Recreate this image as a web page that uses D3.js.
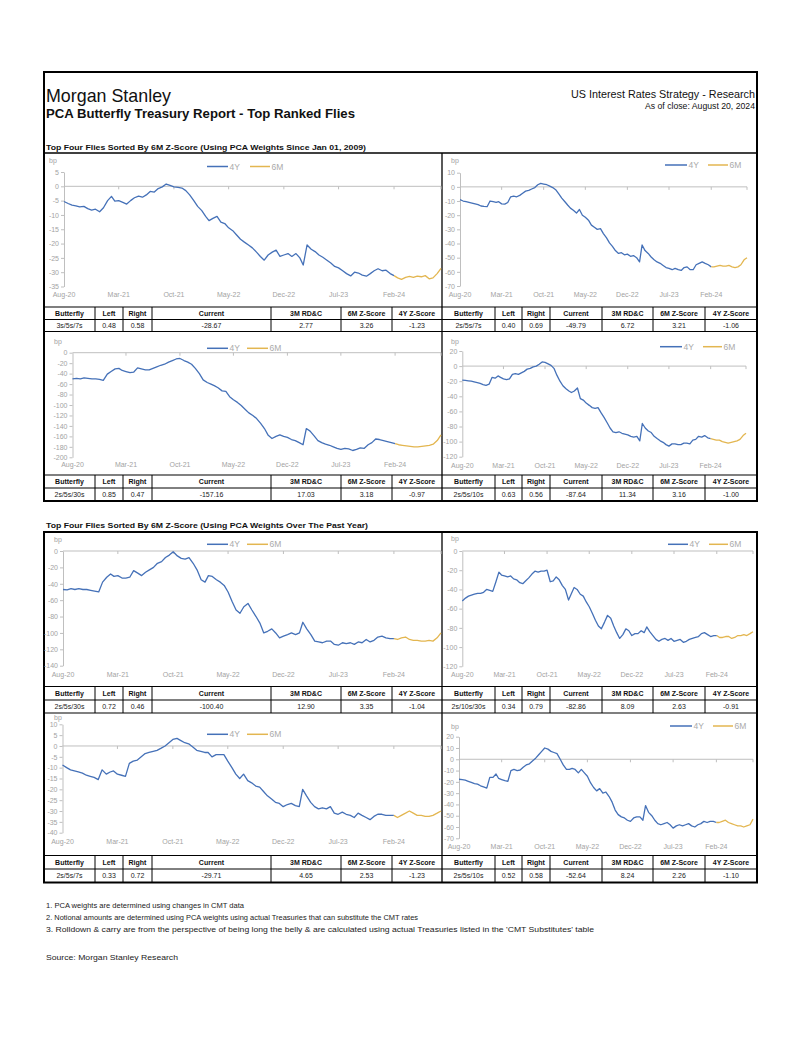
<!DOCTYPE html>
<html><head><meta charset="utf-8">
<script src="https://cdn.jsdelivr.net/npm/d3@7"></script>
<style>
body{margin:0;background:#fff}
svg{display:block}
text{font-family:"Liberation Sans",Arial,Helvetica,sans-serif}
</style>
</head><body>
<svg id="c" width="802" height="1037"></svg>
<script>
// ---------------- DATA ----------------
const xLabels = ["Aug-20","Mar-21","Oct-21","May-22","Dec-22","Jul-23","Feb-24"];
const seriesNames = ["4Y","6M"];
const tableHeaders = ["Butterfly","Left","Right","Current","3M RD&C","6M Z-Score","4Y Z-Score"];

const flyNames = ["3s/5s/7s","2s/5s/7s","2s/5s/30s","2s/5s/10s","2s/5s/30s","2s/10s/30s","2s/5s/7s","2s/5s/10s"];
const leftW    = ["0.48","0.40","0.85","0.63","0.72","0.34","0.33","0.52"];
const rightW   = ["0.58","0.69","0.47","0.56","0.46","0.79","0.72","0.58"];
const currentV = ["-28.67","-49.79","-157.16","-87.64","-100.40","-82.86","-29.71","-52.64"];
const rdc3m    = ["2.77","6.72","17.03","11.34","12.90","8.09","4.65","8.24"];
const z6m      = ["3.26","3.21","3.18","3.16","3.35","2.63","2.53","2.26"];
const z4y      = ["-1.23","-1.06","-0.97","-1.00","-1.04","-0.91","-1.23","-1.10"];

// semi-monthly observations (5th / 20th), Aug 20 2020 .. Aug 20 2024, in bp
const fly1 = [-5.3,-6.0,-6.6,-6.8,-7.2,-7.0,-7.8,-8.3,-8.0,-8.9,
 -7.5,-5.0,-3.5,-5.2,-5.0,-5.6,-6.2,-5.0,-4.0,-3.4,
 -3.8,-3.0,-1.8,-2.0,-0.8,-0.2,0.8,0.3,-0.2,-0.4,
 -0.6,-1.5,-3.0,-5.0,-7.0,-8.5,-10.5,-12.0,-11.2,-10.5,
 -12.5,-13.0,-14.5,-15.5,-17.0,-18.5,-19.5,-20.5,-21.5,-23.0,
 -24.5,-25.8,-24.0,-23.0,-22.3,-24.5,-24.0,-23.5,-24.5,-23.5,
 -25.0,-27.5,-20.5,-22.0,-22.8,-24.0,-24.8,-25.8,-26.8,-28.0,
 -28.5,-29.5,-30.5,-31.3,-30.0,-30.3,-31.0,-31.4,-30.5,-29.5,
 -28.8,-29.5,-29.3,-30.5,-31.2,-32.0,-32.5,-31.8,-31.5,-31.8,
 -31.4,-31.6,-31.2,-32.3,-32.0,-30.5,-28.7];
const fly2 = [-9,-10,-10.5,-11,-11.5,-12,-12.5,-13.5,-13.8,-14,
 -10,-10.5,-11,-10.5,-12,-12.2,-11,-7,-6.5,-7,
 -6,-4.5,-3,-2.5,-1.5,-0.5,1.5,2.5,2,1.5,
 0.5,-0.5,-2,-5,-8,-10.5,-13,-15,-16.5,-18.5,
 -16,-20,-21.5,-23.5,-27,-28.5,-30,-29.5,-33,-36,
 -39.5,-42,-45,-47,-46.5,-48,-47.5,-49,-48.5,-50,
 -53,-41,-45,-47,-49.5,-51.5,-53,-54,-55.5,-57,
 -57.5,-58.5,-57.5,-58.5,-59,-57,-56.5,-58.5,-58.5,-55,
 -54,-53,-54,-55,-56.5,-56.5,-56,-55.5,-56,-56,
 -55.5,-56.5,-57,-56.5,-55,-51.5,-50];
const fly3 = [-50,-49,-50,-48,-49,-50,-50,-51,-53,-41,
 -36,-31,-30,-34,-36,-38,-37,-29,-31,-33,
 -33,-30,-27,-24,-22,-18,-15,-12,-11,-15,
 -18,-22,-30,-40,-52,-57,-60,-63,-67,-73,
 -74,-84,-90,-95,-101,-108,-115,-120,-126,-135,
 -145,-158,-164,-160,-157,-160,-162,-166,-168,-172,
 -176,-145,-150,-159,-168,-172,-175,-177,-180,-183,
 -185,-183,-184,-187,-185,-182,-183,-176,-172,-165,
 -166,-168,-170,-172,-174,-176,-177,-178,-179,-180,
 -180,-179,-178,-177,-175,-168,-157];
const fly4 = [-18.5,-19,-19.5,-20,-21,-22,-23,-24.5,-25.5,-24,
 -15,-16,-13,-15,-17,-18,-17,-11,-10,-11,
 -9,-7,-4,-3,-1,0,2.5,5.5,5,3,
 1,-3,-12,-20,-26,-30,-33,-35,-33,-29,
 -43,-45,-49,-52,-55,-56,-55,-62,-68,-75,
 -82,-87,-88,-87,-89,-90,-91,-93,-94,-93,
 -99,-76,-82,-86,-88,-93,-96,-99,-101,-104,
 -106,-103,-103,-104,-104,-102,-102,-103,-98,-97,
 -93,-94,-92,-95,-96,-97,-98,-98,-100,-101,
 -102,-101,-100,-99,-97,-92,-89];
const fly5 = [-47,-47.5,-46,-47,-46,-47,-47,-48,-49,-50,
 -38,-32,-28,-31,-30,-33,-33,-32,-24,-27,
 -30,-26,-23,-20,-15,-13,-8,-5,-1,-6,
 -9,-10,-8,-15,-23,-35,-38,-30,-31,-35,
 -38,-42,-50,-62,-72,-76,-68,-64,-72,-80,
 -88,-100,-98,-95,-100,-106,-104,-102,-100,-102,
 -100,-87,-95,-102,-110,-111,-112,-110,-110,-114,
 -115,-112,-113,-112,-114,-111,-112,-108,-111,-109,
 -105,-104,-106,-107,-107,-108,-106,-105,-108,-109,
 -109,-110,-110,-109,-110,-106,-100];
const fly6 = [-52,-49,-47,-46,-45,-44,-44,-43,-40,-41,
 -42,-32,-22,-25,-26,-27,-26,-29,-30,-33,
 -34,-31,-28,-24,-21,-22,-21,-21,-20,-32,
 -31,-27,-30,-36,-40,-51,-44,-38,-40,-45,
 -47,-53,-58,-65,-72,-78,-81,-74,-67,-70,
 -78,-85,-91,-87,-81,-83,-88,-86,-86,-83,
 -85,-79,-84,-88,-92,-94,-92,-91,-93,-91,
 -94,-93,-92,-95,-94,-92,-91,-90,-89,-86,
 -85,-87,-89,-88,-88,-90,-90,-89,-89,-91,
 -90,-88,-88,-87,-88,-86,-84];
const fly7 = [-8.8,-10,-11,-11.5,-12,-12.5,-13.5,-14,-14.5,-15.5,
 -11,-13,-12,-11.5,-13,-13.5,-14,-8,-7,-6.5,
 -5,-3.5,-3,-2.5,-2,-1,0,1.5,3,3.5,
 2.5,1.5,1,-0.5,-2,-2.5,-3,-3,-5,-4,
 -4,-4,-7,-10,-13,-15,-13,-16,-17,-18.5,
 -19,-21,-23,-24.5,-26,-26.5,-28,-27,-26.5,-27.5,
 -28,-20,-23,-26,-28,-29,-28.5,-29,-28,-31,
 -31.5,-30.5,-31.5,-32,-33,-31,-32,-33,-34,-32.5,
 -31.5,-31.5,-32,-32,-32,-33,-32,-31,-30,-31,
 -32,-32,-32.5,-32.5,-32,-31,-30];
const fly8 = [-17.7,-18,-18.5,-19.5,-20.5,-21.5,-22,-23.5,-24.5,-25.5,
 -16,-16,-13,-17,-18,-19,-19.5,-10,-9,-10,
 -9.5,-7,-5,-4,-1.5,1,4,7,10,9,
 7,6,5,0,-5,-9,-9,-8,-9,-12,
 -9,-12,-15,-21,-25,-28,-26,-30,-29,-33,
 -38,-45,-49,-51,-52,-54,-55,-52,-51,-51,
 -54,-41,-47,-50,-54,-57,-58,-57,-56,-58,
 -61,-59,-58,-59,-58,-57,-59,-60,-58,-57,
 -55,-56,-55,-55,-56,-56,-55,-54,-56,-57,
 -58,-59,-59,-60,-59,-58,-53];
const allFlies = [fly1,fly2,fly3,fly4,fly5,fly6,fly7,fly8];
const split6M = 84; // index where the 6M window starts (Feb 20, 2024)

// observation dates
const dates = d3.range(97).map(i => i % 2 === 0 ? new Date(2020, 7 + i/2, 20) : new Date(2020, 7 + (i+1)/2, 5));
const labelDates = xLabels.map((_, k) => new Date(2020, 7 + 7*k, 20));

// ---------------- LAYOUT ----------------
const BLUE = "#4571b8", GOLD = "#e3b650", AX = "#bfbfbf", TK = "#a3a3a3";
const charts = [
 {ax:64,  right:441, ymin:-35, ymax:5,  step:5,  yb:286.5, yt:172,  bp:[49,163],  xly:296.5, lg:[207,228,250,270,166.5]},
 {ax:460, right:747, ymin:-70, ymax:10, step:10, yb:286,   yt:172.7,bp:[451,163], xly:296.5, lg:[665,687,708,728,165]},
 {ax:72.5,right:441, ymin:-200,ymax:0,  step:20, yb:457.3, yt:352.7,bp:[54,344],  xly:467,   lg:[207,228,247,268,348.3]},
 {ax:462.3,right:746,ymin:-120,ymax:20, step:20, yb:456.7, yt:351,  bp:[451,343.5],xly:467.5,lg:[660,682,703,722,346.7]},
 {ax:63,  right:441, ymin:-140,ymax:0,  step:20, yb:665.7, yt:551,  bp:[54,541.5],xly:677,   lg:[207,228,247,268,544.3]},
 {ax:462.3,right:753,ymin:-120,ymax:0,  step:20, yb:666.3, yt:551,  bp:[451,540.5],xly:677,  lg:[668,688,709,728,544.3]},
 {ax:62.5,right:441, ymin:-40, ymax:10, step:5,  yb:832.7, yt:724.3,bp:[54,720],  xly:843.5, lg:[207,228,247,268,734.3]},
 {ax:459, right:753, ymin:-70, ymax:20, step:10, yb:838.3, yt:736.7,bp:[451,728.5],xly:848.5,lg:[670,692,713,733,726]}
];
const leftCols  = [44,95,123,152,271,341,392,442];
const rightCols = [442,495,522,550,602,653,705,757];
const tableRows = [[307,319.5,331.5],[475,488,501],[686.5,700,713],[855.5,869,882.5]];

const svg = d3.select("#c");

// ---------------- HEADER ----------------
svg.append("text").attr("x",46).attr("y",102).attr("font-family","Roboto, 'Liberation Sans', sans-serif")
  .attr("font-weight",300).attr("font-size",19).attr("fill","#111")
  .attr("textLength",125).attr("lengthAdjust","spacingAndGlyphs").text("Morgan Stanley");
svg.append("text").attr("x",46).attr("y",117.5).attr("font-weight","bold").attr("font-size",13).attr("fill","#111")
  .attr("textLength",309).attr("lengthAdjust","spacingAndGlyphs").text("PCA Butterfly Treasury Report - Top Ranked Flies");
svg.append("text").attr("x",755).attr("y",98).attr("text-anchor","end").attr("font-size",11.5).attr("fill","#111")
  .attr("textLength",184).attr("lengthAdjust","spacingAndGlyphs").text("US Interest Rates Strategy - Research");
svg.append("text").attr("x",755).attr("y",108.5).attr("text-anchor","end").attr("font-size",9).attr("fill","#111")
  .attr("textLength",110).attr("lengthAdjust","spacingAndGlyphs").text("As of close: August 20, 2024");

svg.append("text").attr("x",46).attr("y",150).attr("font-weight","bold").attr("font-size",8).attr("fill","#111")
  .attr("textLength",320).attr("lengthAdjust","spacingAndGlyphs")
  .text("Top Four Flies Sorted By 6M Z-Score (Using PCA Weights Since Jan 01, 2009)");
svg.append("text").attr("x",46).attr("y",527.5).attr("font-weight","bold").attr("font-size",8).attr("fill","#111")
  .attr("textLength",322).attr("lengthAdjust","spacingAndGlyphs")
  .text("Top Four Flies Sorted By 6M Z-Score (Using PCA Weights Over The Past Year)");

// frames
function hline(y, x1, x2, w){ svg.append("line").attr("x1",x1).attr("x2",x2).attr("y1",y).attr("y2",y).attr("stroke","#000").attr("stroke-width",w); }
function vline(x, y1, y2, w){ svg.append("line").attr("x1",x).attr("x2",x).attr("y1",y1).attr("y2",y2).attr("stroke","#000").attr("stroke-width",w); }
svg.append("rect").attr("x",44).attr("y",72).attr("width",713).attr("height",429).attr("fill","none").attr("stroke","#000").attr("stroke-width",2);
hline(153,44,757,1.5);
vline(442,153,501,1.3);
svg.append("rect").attr("x",44).attr("y",532).attr("width",713).attr("height",350.5).attr("fill","none").attr("stroke","#000").attr("stroke-width",2);
vline(442,532,882.5,1.3);

// ---------------- CHARTS ----------------
function drawChart(c, vals){
  const g = svg.append("g");
  const x = d3.scaleTime().domain([new Date(2020,7,20), new Date(2024,7,20)]).range([c.ax, c.right]);
  const y = d3.scaleLinear().domain([c.ymin, c.ymax]).range([c.yb, c.yt]);
  const ya = g.append("g").attr("transform",`translate(${c.ax},0)`)
    .call(d3.axisLeft(y).tickValues(d3.range(c.ymin, c.ymax + 0.001, c.step)).tickSize(3).tickSizeOuter(0).tickPadding(2).tickFormat(d => String(d)));
  ya.select(".domain").attr("stroke",AX);
  ya.selectAll(".tick line").attr("stroke",AX);
  ya.selectAll(".tick text").attr("fill",TK).attr("font-size",7).attr("font-family","'Liberation Sans',Arial,sans-serif");
  // zero line (category axis)
  g.append("line").attr("x1",c.ax).attr("x2",c.right).attr("y1",y(0)).attr("y2",y(0)).attr("stroke",AX).attr("stroke-width",1);
  g.selectAll(".xt").data(labelDates.slice(1).concat([new Date(2024,7,20)])).join("line")
    .attr("x1",d=>x(d)).attr("x2",d=>x(d)).attr("y1",y(0)).attr("y2",y(0)+3).attr("stroke",AX);
  g.selectAll(".xl").data(labelDates).join("text")
    .attr("x",d=>x(d)).attr("y",c.xly).attr("text-anchor","middle").attr("font-size",7).attr("fill",TK)
    .text((d,i)=>xLabels[i]);
  g.append("text").attr("x",c.bp[0]).attr("y",c.bp[1]).attr("font-size",7).attr("fill",TK).text("bp");
  const line = d3.line().x((d,i)=>x(d[0])).y(d=>y(d[1]));
  const pts = dates.map((d,i)=>[d, vals[i]]);
  g.append("path").attr("d", line(pts.slice(0, split6M+1))).attr("fill","none").attr("stroke",BLUE).attr("stroke-width",1.3).attr("stroke-linejoin","round");
  g.append("path").attr("d", line(pts.slice(split6M))).attr("fill","none").attr("stroke",GOLD).attr("stroke-width",1.3).attr("stroke-linejoin","round");
  // legend
  const L = c.lg;
  g.append("line").attr("x1",L[0]).attr("x2",L[1]).attr("y1",L[4]).attr("y2",L[4]).attr("stroke",BLUE).attr("stroke-width",1.5);
  g.append("text").attr("x",L[1]+1.5).attr("y",L[4]+3).attr("font-size",8.5).attr("fill","#aaa").text(seriesNames[0]);
  g.append("line").attr("x1",L[2]).attr("x2",L[3]).attr("y1",L[4]).attr("y2",L[4]).attr("stroke",GOLD).attr("stroke-width",1.5);
  g.append("text").attr("x",L[3]+1.5).attr("y",L[4]+3).attr("font-size",8.5).attr("fill","#aaa").text(seriesNames[1]);
}
charts.forEach((c,i)=>drawChart(c, allFlies[i]));

// ---------------- TABLES ----------------
function drawTable(cols, rows, k){
  const [t,m,b] = rows;
  hline(t, cols[0], cols[cols.length-1], 1.2);
  hline(m, cols[0], cols[cols.length-1], 1);
  hline(b, cols[0], cols[cols.length-1], 1.2);
  cols.slice(1, -1).forEach(cx => vline(cx, t, b, 1));
  const vals = [flyNames[k], leftW[k], rightW[k], currentV[k], rdc3m[k], z6m[k], z4y[k]];
  for (let j = 0; j < 7; j++){
    const cx = (cols[j] + cols[j+1]) / 2;
    svg.append("text").attr("x",cx).attr("y",(t+m)/2+2.6).attr("text-anchor","middle")
      .attr("font-size",7).attr("font-weight","bold").attr("fill","#111").text(tableHeaders[j]);
    svg.append("text").attr("x",cx).attr("y",(m+b)/2+2.6).attr("text-anchor","middle")
      .attr("font-size",7).attr("fill","#222").text(vals[j]);
  }
}
for (let k = 0; k < 8; k++){
  drawTable(k % 2 === 0 ? leftCols : rightCols, tableRows[Math.floor(k/2)], k);
}

// ---------------- FOOTNOTES ----------------
const notes = [
  ["1. PCA weights are determined using changes in CMT data", 907.5, 198],
  ["2. Notional amounts are determined using PCA weights using actual Treasuries that can substitute the CMT rates", 919.5, 372],
  ["3. Rolldown & carry are from the perspective of being long the belly & are calculated using actual Treasuries listed in the 'CMT Substitutes' table", 932, 548],
  ["Source: Morgan Stanley Research", 959.5, 132]
];
notes.forEach(n => svg.append("text").attr("x",46).attr("y",n[1]).attr("font-size",8).attr("fill","#222")
  .attr("textLength",n[2]).attr("lengthAdjust","spacingAndGlyphs").text(n[0]));
</script>
</body></html>
